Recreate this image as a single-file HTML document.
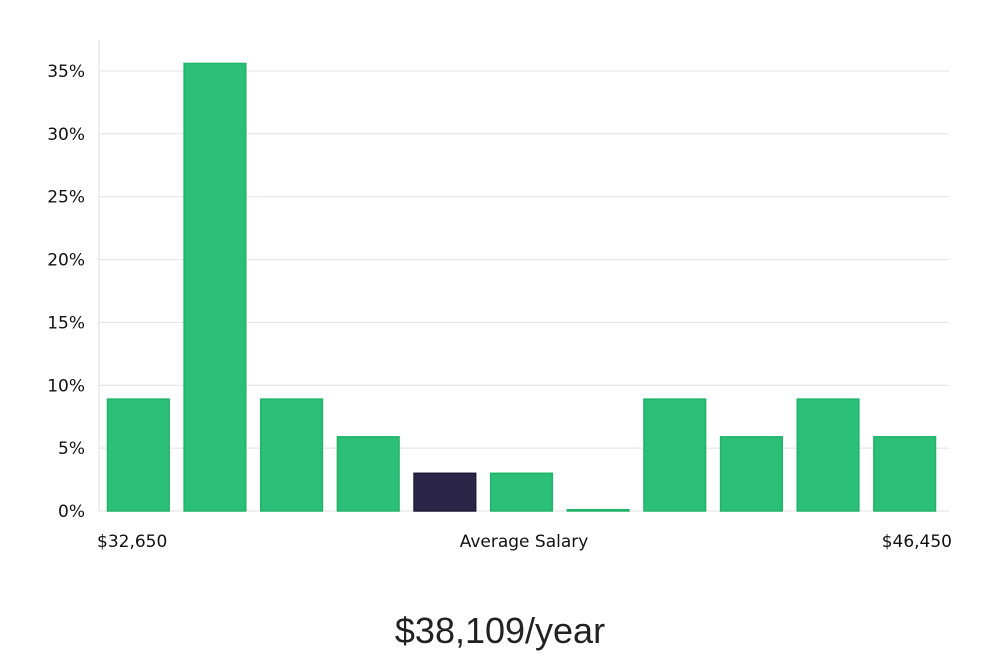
<!DOCTYPE html>
<html><head><meta charset="utf-8"><style>
body{margin:0;background:#fff;width:1000px;height:660px;overflow:hidden;font-family:"DejaVu Sans","Liberation Sans",sans-serif}
#title{position:absolute;left:0;width:1000px;top:610px;text-align:center;font-size:36px;font-weight:300;color:#222;font-family:"Liberation Sans","DejaVu Sans",sans-serif}
</style></head><body>
<svg id="chart" width="1000" height="600" style="position:absolute;left:0;top:0"></svg>
<div id="title">$38,109/year</div>
<script>
const categories=["b1","b2","b3","b4","b5","b6","b7","b8","b9","b10","b11"];
const values=[8.9,35.6,8.9,5.9,3.0,3.0,0.1,8.9,5.9,8.9,5.9];
const highlight=[false,false,false,false,true,false,false,false,false,false,false];
const yTicks=[0,5,10,15,20,25,30,35];
const xLabels=["$32,650","Average Salary","$46,450"];
const svg=document.getElementById('chart');
const NS='http://www.w3.org/2000/svg';
const x0=103,x1=946,yBase=511,yTop=71;
const y=v=>yBase-(v/35)*(yBase-yTop);
const pitch=(x1-x0)/categories.length;
function mk(t,a){const e=document.createElementNS(NS,t);for(const k in a)e.setAttribute(k,a[k]);svg.appendChild(e);return e;}
const ax=mk('line',{x1:99,x2:99,y1:40,y2:511,stroke:'#ddd'});


yTicks.forEach(t=>{
  const g=mk('line',{x1:99,x2:949,y1:y(t),y2:y(t),stroke:'#e2e2e2','stroke-width':1});
  
  
  const l=mk('text',{x:85,y:y(t)+6,'text-anchor':'end','font-size':17,fill:'#111'});
  l.textContent=t+'%';
  
  
});
categories.forEach((c,i)=>{
  const v=values[i];const top=y(v);
  const r=mk('rect',{x:x0+i*pitch+4.5,y:top,width:pitch-15,height:Math.max(yBase-top,1),
    fill:highlight[i]?'#2b2548':'#2bbf77',stroke:highlight[i]?'#1e1a36':'#20b468','stroke-width':1.5});
  
  
});
const xp=[[97,'start'],[524,'middle'],[952,'end']];
xLabels.forEach((s,i)=>{
  const t=mk('text',{x:xp[i][0],y:547,'text-anchor':xp[i][1],'font-size':17,fill:'#111'});
  t.textContent=s;
  
  
});
</script>
</body></html>
